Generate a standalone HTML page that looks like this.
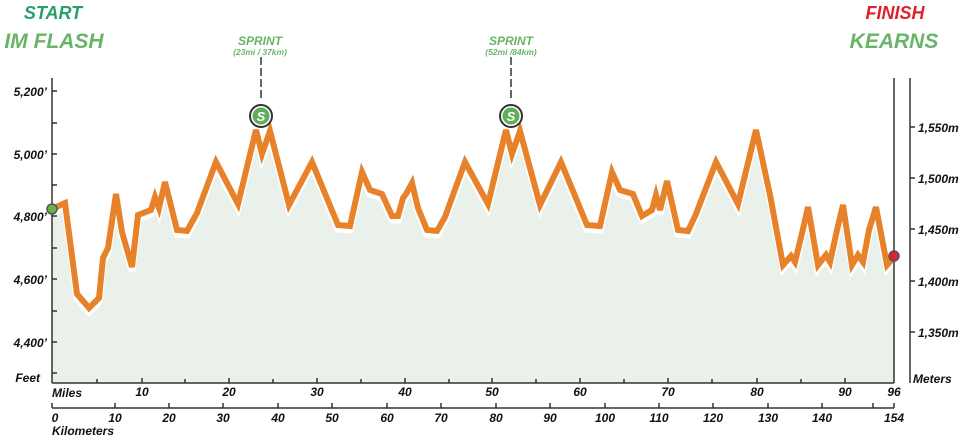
<!DOCTYPE html>
<html><head><meta charset="utf-8"><style>
body{margin:0;background:#fff;width:960px;height:440px;overflow:hidden}
svg text{font-family:"Liberation Sans",sans-serif;font-weight:bold;font-style:italic}
</style></head><body>
<svg width="960" height="440" viewBox="0 0 960 440">
<defs><polyline id="p" points="52,209 65,203 77,294 89,308 99,298 103,258 108,248 116,194 122,232 132,267 138,215 151,210 155,197 159,208 165,182 177,230 187,231 197,213 216,162 238,204 256,130 262,154 270,131 289,205 312,162 338,225 350,226 362,172 370,190 382,194 392,216 398,216 403,198 406,194 412,183 418,208 427,230 437,231 445,217 465,162 488,204 506,130 512,154 520,131 540,205 561,162 587,225 600,226 612,172 620,190 633,194 642,216 652,210 656,195 660,210 667,181 678,230 688,231 696,214 716,162 738,204 756,130 770,195 783,265 791,256 795,262 803,229 808,207 818,265 826,255 830,262 837,230 843,205 852,265 858,255 863,262 869,230 876,207 887,265 894,257"/></defs>
<polygon fill="#e9f1ea" points="52,383 52,209 65,203 77,294 89,308 99,298 103,258 108,248 116,194 122,232 132,267 138,215 151,210 155,197 159,208 165,182 177,230 187,231 197,213 216,162 238,204 256,130 262,154 270,131 289,205 312,162 338,225 350,226 362,172 370,190 382,194 392,216 398,216 403,198 406,194 412,183 418,208 427,230 437,231 445,217 465,162 488,204 506,130 512,154 520,131 540,205 561,162 587,225 600,226 612,172 620,190 633,194 642,216 652,210 656,195 660,210 667,181 678,230 688,231 696,214 716,162 738,204 756,130 770,195 783,265 791,256 795,262 803,229 808,207 818,265 826,255 830,262 837,230 843,205 852,265 858,255 863,262 869,230 876,207 887,265 894,257 894,383"/>
<use href="#p" fill="none" stroke="#fff" stroke-width="7" transform="translate(0,4)"/>
<use href="#p" fill="none" stroke="#e8822a" stroke-width="6" stroke-linejoin="miter"/>
<g stroke="#333" stroke-width="1.5" fill="none">
<line x1="52" y1="78" x2="52" y2="383"/><line x1="894" y1="78" x2="894" y2="383"/><line x1="52" y1="383" x2="894" y2="383"/>
<line x1="910" y1="78" x2="910" y2="383"/>
<line x1="52" y1="408" x2="894" y2="408"/>
<line x1="261" y1="57" x2="261" y2="100" stroke-dasharray="8,3"/>
<line x1="511" y1="57" x2="511" y2="100" stroke-dasharray="8,3"/>
</g>
<g stroke="#333" stroke-width="1.5">
<line x1="52" y1="91" x2="57" y2="91"/><line x1="52" y1="123" x2="57" y2="123"/><line x1="52" y1="154" x2="57" y2="154"/><line x1="52" y1="185" x2="57" y2="185"/><line x1="52" y1="216" x2="57" y2="216"/><line x1="52" y1="248" x2="57" y2="248"/><line x1="52" y1="279" x2="57" y2="279"/><line x1="52" y1="311" x2="57" y2="311"/><line x1="52" y1="342" x2="57" y2="342"/><line x1="52" y1="373" x2="57" y2="373"/>
<line x1="910" y1="127" x2="915" y2="127"/><line x1="910" y1="178" x2="915" y2="178"/><line x1="910" y1="229" x2="915" y2="229"/><line x1="910" y1="281" x2="915" y2="281"/><line x1="910" y1="332" x2="915" y2="332"/>
</g>
<g id="mt" stroke="#333" stroke-width="1.5"></g>
<g font-size="12" fill="#111" text-anchor="end">
<text x="47" y="96">5,200’</text><text x="47" y="159">5,000’</text><text x="47" y="221">4,800’</text><text x="47" y="284">4,600’</text><text x="47" y="347">4,400’</text><text x="40" y="382">Feet</text>
</g>
<g font-size="12" fill="#111">
<text x="918" y="132">1,550m</text><text x="918" y="183">1,500m</text><text x="918" y="234">1,450m</text><text x="918" y="286">1,400m</text><text x="918" y="337">1,350m</text><text x="913" y="383">Meters</text>
<text x="52" y="397">Miles</text><text x="52" y="435">Kilometers</text>
</g>
<g font-size="12" fill="#111" text-anchor="middle">
<text x="142" y="396">10</text><text x="229" y="396">20</text><text x="317" y="396">30</text><text x="405" y="396">40</text><text x="492" y="396">50</text><text x="580" y="396">60</text><text x="668" y="396">70</text><text x="757" y="396">80</text><text x="845" y="396">90</text><text x="894" y="396">96</text>
<text x="55" y="422">0</text><text x="115" y="422">10</text><text x="169" y="422">20</text><text x="223" y="422">30</text><text x="278" y="422">40</text><text x="332" y="422">50</text><text x="387" y="422">60</text><text x="441" y="422">70</text><text x="496" y="422">80</text><text x="550" y="422">90</text><text x="605" y="422">100</text><text x="659" y="422">110</text><text x="713" y="422">120</text><text x="768" y="422">130</text><text x="822" y="422">140</text><text x="894" y="422">154</text>
</g>
<g stroke="#333" stroke-width="1.5">
<line x1="97" y1="383" x2="97" y2="379"/><line x1="142" y1="383" x2="142" y2="378"/><line x1="185" y1="383" x2="185" y2="379"/><line x1="229" y1="383" x2="229" y2="378"/><line x1="273" y1="383" x2="273" y2="379"/><line x1="317" y1="383" x2="317" y2="378"/><line x1="361" y1="383" x2="361" y2="379"/><line x1="405" y1="383" x2="405" y2="378"/><line x1="449" y1="383" x2="449" y2="379"/><line x1="492" y1="383" x2="492" y2="378"/><line x1="536" y1="383" x2="536" y2="379"/><line x1="580" y1="383" x2="580" y2="378"/><line x1="624" y1="383" x2="624" y2="379"/><line x1="668" y1="383" x2="668" y2="378"/><line x1="712" y1="383" x2="712" y2="379"/><line x1="757" y1="383" x2="757" y2="378"/><line x1="801" y1="383" x2="801" y2="379"/><line x1="845" y1="383" x2="845" y2="378"/>
<line x1="52" y1="408" x2="52" y2="403"/><line x1="115" y1="408" x2="115" y2="403"/><line x1="169" y1="408" x2="169" y2="403"/><line x1="223" y1="408" x2="223" y2="403"/><line x1="278" y1="408" x2="278" y2="403"/><line x1="332" y1="408" x2="332" y2="403"/><line x1="387" y1="408" x2="387" y2="403"/><line x1="441" y1="408" x2="441" y2="403"/><line x1="496" y1="408" x2="496" y2="403"/><line x1="550" y1="408" x2="550" y2="403"/><line x1="605" y1="408" x2="605" y2="403"/><line x1="659" y1="408" x2="659" y2="403"/><line x1="713" y1="408" x2="713" y2="403"/><line x1="768" y1="408" x2="768" y2="403"/><line x1="822" y1="408" x2="822" y2="403"/><line x1="873" y1="408" x2="873" y2="403"/><line x1="894" y1="408" x2="894" y2="403"/>
</g>
<circle cx="52" cy="209" r="5" fill="#6ab04c" stroke="#555" stroke-width="1.5"/>
<circle cx="894" cy="256" r="5" fill="#e0202a" stroke="#555" stroke-width="1.5"/>
<g>
<circle cx="261" cy="116" r="11" fill="#fff" stroke="#333" stroke-width="2"/><circle cx="261" cy="116" r="8.5" fill="#5fae5a"/>
<text x="261" y="121" font-size="13" fill="#fff" text-anchor="middle">S</text>
<circle cx="511" cy="116" r="11" fill="#fff" stroke="#333" stroke-width="2"/><circle cx="511" cy="116" r="8.5" fill="#5fae5a"/>
<text x="511" y="121" font-size="13" fill="#fff" text-anchor="middle">S</text>
</g>
<g fill="#6ab46a" text-anchor="middle">
<text x="260" y="45" font-size="12">SPRINT</text><text x="260" y="55" font-size="8.5">(23mi / 37km)</text>
<text x="511" y="45" font-size="12">SPRINT</text><text x="511" y="55" font-size="8.5">(52mi /84km)</text>
</g>
<text x="53" y="19" font-size="18" fill="#27a06a" text-anchor="middle">START</text>
<text x="54" y="48" font-size="21" fill="#6ab46a" text-anchor="middle">IM FLASH</text>
<text x="895" y="19" font-size="18" fill="#e0202a" text-anchor="middle">FINISH</text>
<text x="894" y="48" font-size="21" fill="#6ab46a" text-anchor="middle">KEARNS</text>
</svg>
</body></html>
